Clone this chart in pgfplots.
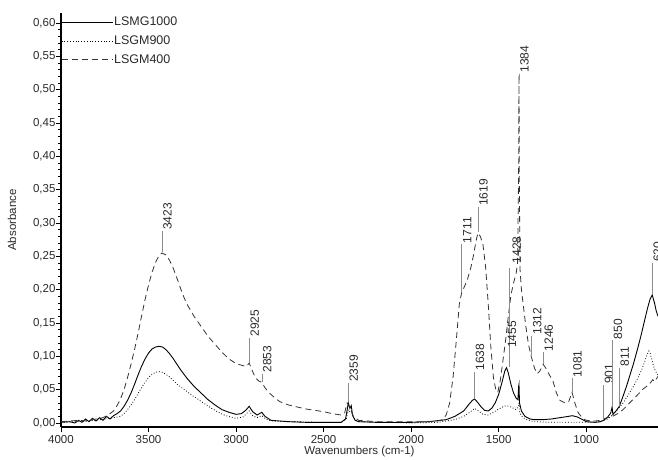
\documentclass[border=0pt]{standalone}
\usepackage{fontspec}
\setmainfont{Liberation Sans}
\usepackage{pgfplots}
\pgfplotsset{compat=1.18}

\definecolor{peakline}{HTML}{8C8C8C}
\definecolor{txt}{HTML}{2A2A2A}

% peak marker: thin vertical stroke with the wavenumber written upwards
\newcommand{\peak}[4][]{%
  \addplot[peakline, line width=0.6pt, forget plot] coordinates {(#2,#3) (#2,#4)}
    node[pos=1, rotate=90, anchor=north west, inner sep=1pt, text=txt,
         font=\fontsize{12}{14}\selectfont, #1] {#2};}

\begin{document}
\begin{tikzpicture}
\path[use as bounding box] (-61pt,-32pt) rectangle (597pt,427pt);
\begin{axis}[
  scale only axis,
  width=597pt, height=414pt,
  x dir=reverse,
  xmin=590, xmax=4000,
  ymin=-0.006, ymax=0.615,
  axis lines=left,
  axis line style={-, black},
  x axis line style={line width=1.6pt},
  y axis line style={line width=1.1pt},
  xtick={1000,1500,...,4000},
  ytick={0,0.05,...,0.601},
  minor y tick num=4,
  tick align=outside,
  major tick length=5pt,
  minor tick length=3pt,
  tick style={black, line width=0.6pt},
  x tick label style={/pgf/number format/.cd, 1000 sep={}, assume math mode=true},
  y tick label style={xshift=3pt, /pgf/number format/.cd, fixed, fixed zerofill, precision=2, use comma, assume math mode=true},
  ticklabel style={font=\fontsize{11.5}{13}\selectfont, text=txt},
  xlabel={Wavenumbers (cm-1)},
  ylabel={Absorbance},
  label style={font=\fontsize{11.5}{13}\selectfont, text=txt},
  xlabel style={at={(axis description cs:0.5,-0.0604)}, anchor=center},
  ylabel style={at={(axis description cs:-0.0821,0.5)}, anchor=center},
  legend style={at={(0,1)}, anchor=north west, draw=none, fill=none,
    font=\fontsize{12.5}{14}\selectfont, text=txt,
    nodes={inner sep=1pt}, row sep=6.5pt, column sep=0pt, xshift=-3pt, yshift=-1pt},
  legend cell align=left,
  legend image code/.code={\draw[#1] (0pt,0pt) -- (51pt,0pt);},
]

% LSMG1000
\addplot[black, line width=0.9pt] coordinates {
(4000,0.001) (3950,0.002) (3920,0.000) (3900,0.004) (3880,0.001) (3860,0.006)
(3840,0.002) (3820,0.007) (3800,0.003) (3780,0.008) (3760,0.004) (3740,0.010)
(3720,0.006) (3700,0.011) (3680,0.014) (3660,0.018) (3640,0.025) (3620,0.034)
(3600,0.045) (3580,0.058) (3560,0.072) (3540,0.085) (3520,0.096) (3500,0.105)
(3480,0.111) (3460,0.114) (3440,0.115) (3420,0.114) (3400,0.110) (3380,0.104)
(3360,0.097) (3340,0.089) (3320,0.081) (3300,0.074) (3280,0.067) (3260,0.061)
(3240,0.055) (3200,0.045) (3160,0.035) (3120,0.027) (3080,0.020) (3040,0.016)
(3000,0.013) (2970,0.014) (2945,0.019) (2925,0.025) (2905,0.017) (2880,0.012)
(2853,0.016) (2835,0.010) (2800,0.004) (2750,0.003) (2700,0.002) (2600,0.001)
(2500,0.001) (2400,0.001) (2375,0.006) (2365,0.020) (2359,0.030) (2350,0.022)
(2342,0.026) (2335,0.012) (2320,0.004) (2300,0.002) (2200,0.001) (2000,0.001)
(1900,0.002) (1800,0.005) (1750,0.010) (1700,0.018) (1670,0.028) (1650,0.034)
(1638,0.036) (1620,0.031) (1600,0.024) (1580,0.019) (1560,0.018) (1540,0.022)
(1520,0.030) (1500,0.043) (1480,0.062) (1465,0.078) (1455,0.083) (1445,0.075)
(1430,0.058) (1415,0.045) (1400,0.037) (1390,0.035) (1386,0.055) (1384,0.058)
(1381,0.030) (1370,0.018) (1350,0.010) (1320,0.006) (1300,0.005) (1250,0.005)
(1200,0.006) (1150,0.008) (1100,0.010) (1080,0.011) (1050,0.009) (1020,0.005)
(1000,0.002) (950,0.001) (920,0.002) (901,0.004) (880,0.008) (860,0.015)
(852,0.024) (848,0.013) (830,0.018) (811,0.025) (790,0.040) (770,0.055)
(750,0.072) (730,0.089) (710,0.108) (690,0.128) (670,0.150) (650,0.172)
(635,0.186) (623,0.192) (610,0.180) (600,0.168) (590,0.160)
};
\addlegendentry{LSMG1000}

% LSGM900
\addplot[black, line width=0.8pt, dotted] coordinates {
(4000,0.001) (3900,0.002) (3800,0.004) (3750,0.006) (3700,0.008) (3660,0.010)
(3640,0.014) (3620,0.020) (3600,0.027) (3580,0.035) (3560,0.044) (3540,0.053)
(3520,0.061) (3500,0.068) (3480,0.073) (3460,0.076) (3440,0.077) (3420,0.076)
(3400,0.073) (3380,0.069) (3360,0.064) (3340,0.059) (3300,0.051) (3260,0.043)
(3220,0.036) (3180,0.029) (3140,0.022) (3100,0.016) (3060,0.011) (3000,0.007)
(2960,0.009) (2925,0.018) (2905,0.011) (2880,0.008) (2853,0.011) (2830,0.006)
(2800,0.003) (2700,0.002) (2500,0.001) (2400,0.001) (2370,0.006) (2359,0.020)
(2350,0.016) (2340,0.018) (2330,0.008) (2300,0.002) (2000,0.000) (1850,0.001)
(1750,0.005) (1700,0.010) (1660,0.017) (1638,0.022) (1620,0.019) (1590,0.013)
(1560,0.012) (1530,0.016) (1500,0.021) (1470,0.025) (1455,0.026) (1430,0.024)
(1400,0.020) (1386,0.026) (1384,0.030) (1381,0.015) (1360,0.008) (1330,0.004)
(1300,0.002) (1200,0.001) (1100,0.001) (1000,0.001) (920,0.002) (880,0.006)
(850,0.012) (820,0.020) (790,0.030) (760,0.042) (730,0.055) (700,0.070)
(680,0.082) (665,0.093) (650,0.104) (642,0.108) (635,0.105) (625,0.095)
(615,0.085) (605,0.078) (590,0.072)
};
\addlegendentry{LSGM900}

% LSGM400
\addplot[black!80, line width=0.8pt, dash pattern=on 6pt off 4pt] coordinates {
(4000,0.002) (3900,0.004) (3850,0.003) (3800,0.006) (3760,0.008) (3730,0.012)
(3700,0.018) (3680,0.026) (3660,0.036) (3640,0.050) (3620,0.068) (3600,0.088)
(3580,0.110) (3560,0.134) (3540,0.160) (3520,0.185) (3500,0.207) (3480,0.226)
(3460,0.241) (3440,0.251) (3423,0.255) (3400,0.252) (3380,0.244) (3360,0.233)
(3340,0.219) (3320,0.204) (3300,0.190) (3280,0.178) (3260,0.169) (3240,0.160)
(3200,0.145) (3160,0.130) (3120,0.118) (3080,0.106) (3040,0.096) (3000,0.089)
(2960,0.086) (2940,0.085) (2925,0.090) (2910,0.080) (2890,0.068) (2870,0.063)
(2853,0.061) (2835,0.053) (2810,0.045) (2780,0.038) (2750,0.032) (2700,0.027)
(2650,0.024) (2600,0.021) (2550,0.019) (2500,0.017) (2450,0.014) (2400,0.012)
(2380,0.015) (2366,0.030) (2355,0.026) (2345,0.020) (2330,0.010) (2300,0.004)
(2200,0.002) (2000,0.002) (1900,0.002) (1850,0.003) (1820,0.005) (1800,0.012)
(1780,0.030) (1760,0.070) (1740,0.130) (1725,0.178) (1711,0.196) (1700,0.202)
(1680,0.214) (1660,0.232) (1645,0.250) (1630,0.272) (1619,0.285) (1605,0.280)
(1590,0.268) (1575,0.235) (1560,0.180) (1545,0.115) (1530,0.068) (1515,0.048)
(1505,0.046) (1490,0.065) (1475,0.095) (1460,0.125) (1445,0.160) (1430,0.192)
(1415,0.210) (1400,0.225) (1392,0.240) (1386,0.380) (1384,0.522) (1382,0.360)
(1378,0.230) (1370,0.200) (1360,0.178) (1345,0.145) (1330,0.118) (1312,0.098)
(1295,0.082) (1280,0.074) (1265,0.078) (1246,0.088) (1230,0.082) (1210,0.072)
(1190,0.063) (1170,0.045) (1150,0.034) (1120,0.030) (1100,0.032) (1081,0.046)
(1065,0.030) (1045,0.015) (1020,0.007) (1000,0.004) (950,0.003) (920,0.004)
(901,0.006) (880,0.008) (850,0.010) (820,0.014) (790,0.020) (760,0.028)
(730,0.036) (700,0.044) (680,0.050) (660,0.054) (640,0.058) (620,0.065)
(610,0.062) (600,0.066) (590,0.070)
};
\addlegendentry{LSGM400}

% band assignments
\peak{3423}{0.256}{0.288}
\peak{2925}{0.090}{0.128}
\peak{2853}{0.061}{0.074}
\peak{2359}{0.032}{0.060}
\peak{1711}{0.196}{0.268}
\peak{1619}{0.286}{0.324}
\peak{1638}{0.037}{0.077}
\addplot[peakline, line width=0.6pt, forget plot] coordinates {(1442,0.084) (1442,0.232)};
\peak{1455}{0.111}{0.111}
\peak{1428}{0.238}{0.238}
\peak{1384}{0.515}{0.524}
\peak{1312}{0.099}{0.131}
\peak{1246}{0.089}{0.106}
\peak{1081}{0.047}{0.067}
\peak{901}{0.005}{0.057}
\peak{850}{0.024}{0.124}
\peak{811}{0.026}{0.083}
\addplot[peakline, line width=0.6pt, forget plot] coordinates {(623,0.193) (623,0.240)}
  node[pos=1, rotate=90, anchor=north west, inner sep=1pt, text=txt,
       font=\fontsize{12}{14}\selectfont, overlay] {620};
\end{axis}
\end{tikzpicture}
\end{document}
